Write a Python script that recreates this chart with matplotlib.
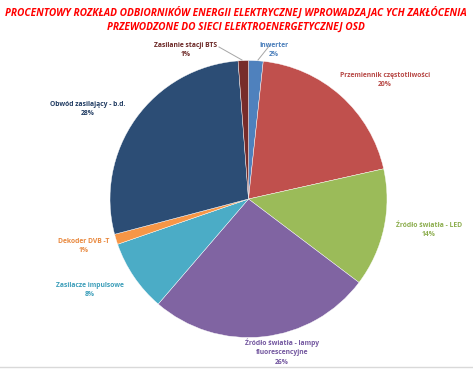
import matplotlib
matplotlib.use("Agg")
import matplotlib.pyplot as plt
from matplotlib.lines import Line2D

W, H = 473, 369
labels = ["Inwerter", "Przemiennik częstotliwości", "Źródło światła - LED",
          "Źródło światła - lampy\nfluorescencyjne", "Zasilacze impulsowe",
          "Dekoder DVB -T", "Obwód zasilający - b.d.", "Zasilanie stacji BTS"]
values = [1.7, 19.8, 13.8, 26.0, 8.4, 1.2, 27.9, 1.2]
colors = ["#4F81BD", "#C0504D", "#9BBB59", "#8064A2", "#4BACC6", "#F79646", "#2C4D75", "#772C2A"]
text_colors = ["#4A7EBB", "#B84A47", "#8DAE4F", "#7458A0", "#3E9FBA", "#E9893F", "#233E64", "#6B2725"]
title = ("PROCENTOWY ROZKŁAD ODBIORNIKÓW ENERGII ELEKTRYCZNEJ WPROWADZAJAC YCH ZAKŁÓCENIA\n"
         "PRZEWODZONE DO SIECI ELEKTROENERGETYCZNEJ OSD")

# label anchor positions in pixels (x, y from top)
label_pos = [(274, 50), (385, 80), (429, 230), (282, 352), (90, 290), (84, 246), (88, 109), (186, 50)]

fig = plt.figure(figsize=(W / 100, H / 100), dpi=100)
fig.patch.set_facecolor("white")

cx, cy, r = 248.5, 199, 138.5
ax = fig.add_axes([(cx - r) / W, (H - cy - r) / H, 2 * r / W, 2 * r / H])
ax.pie(values, colors=colors, startangle=90, counterclock=False,
       wedgeprops=dict(linewidth=0.3, edgecolor="white"))
ax.set_xlim(-1, 1)
ax.set_ylim(-1, 1)
ax.axis("off")

fam = ["Open Sans", "DejaVu Sans"]
fig.text(236 / W, 1 - 20 / H, title, ha="center", va="center", color="#FF0000",
         fontsize=7.3, fontweight="bold", fontstyle="italic", family=fam, linespacing=1.35)

total = sum(values)
for lab, v, (px, py), tc in zip(labels, values, label_pos, text_colors):
    fig.text(px / W, 1 - py / H, f"{lab}\n{round(v / total * 100):d}%", ha="center", va="center",
             color=tc, fontsize=4.9, fontweight="bold", family=fam, linespacing=1.5)

# leader lines
for (x0, y0, x1, y1) in [(219, 47, 242, 60), (270, 45, 258, 60)]:
    fig.add_artist(Line2D([x0 / W, x1 / W], [1 - y0 / H, 1 - y1 / H], color="#A6A6A6", lw=0.7))

fig.add_artist(Line2D([0, 1], [1 - 367 / H, 1 - 367 / H], color="#D9D9D9", lw=1))

fig.savefig("out.png", dpi=100)
